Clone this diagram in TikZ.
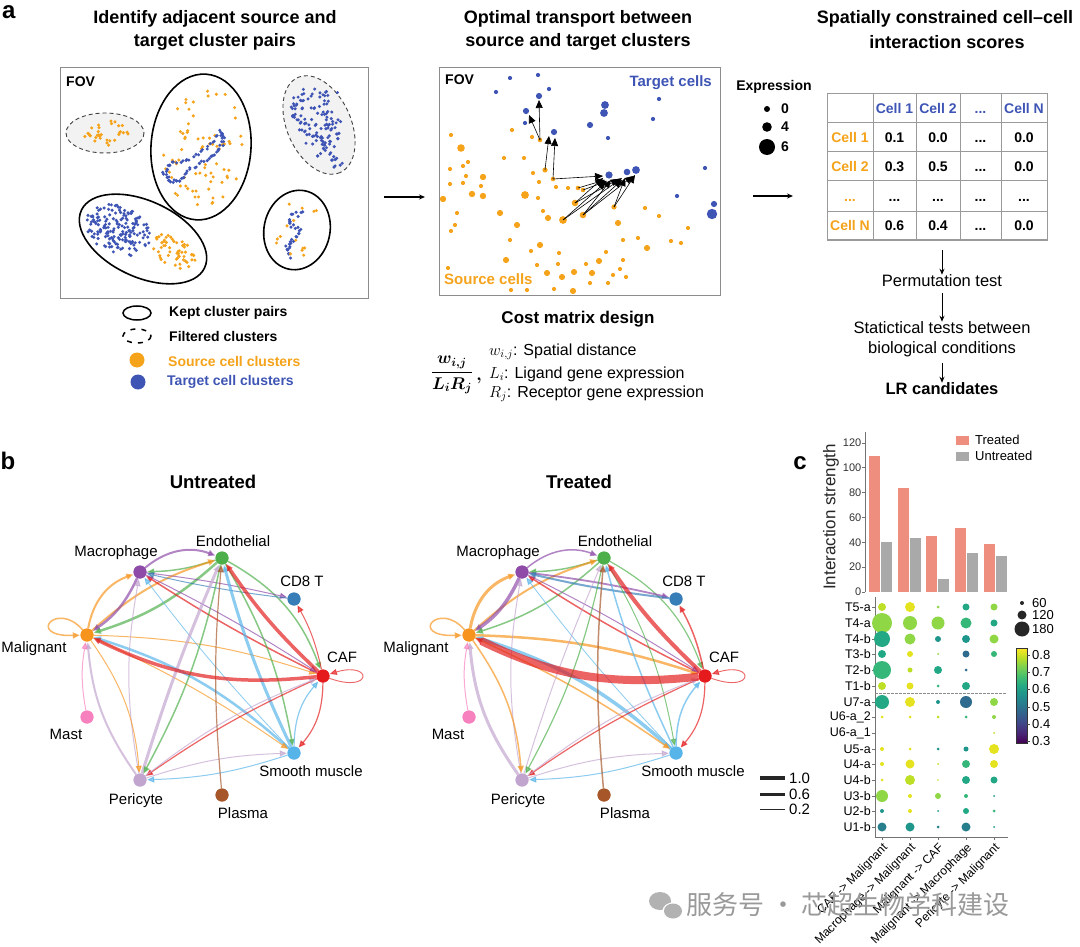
\RequirePackage{fix-cm}
\documentclass[tikz,border=0pt]{standalone}
\usepackage{amsmath}
\usepackage{bm}
\usepackage{fontspec}
\setmainfont{Liberation Sans}
\newfontfamily\cjk{Noto Sans CJK SC}
\usetikzlibrary{arrows.meta}
\definecolor{srcor}{HTML}{F5A31A}
\definecolor{tgtbl}{HTML}{3F55B5}
\definecolor{cMac}{HTML}{8E4BA8}
\definecolor{cEnd}{HTML}{4DAF4A}
\definecolor{cCD}{HTML}{377EB8}
\definecolor{cMal}{HTML}{F7941D}
\definecolor{cCAF}{HTML}{E41A1C}
\definecolor{cMast}{HTML}{F781BF}
\definecolor{cSM}{HTML}{56B4E9}
\definecolor{cPer}{HTML}{C2A5CF}
\definecolor{cPla}{HTML}{A65628}
\definecolor{barT}{HTML}{EE8E7E}
\definecolor{barU}{HTML}{A9A9A9}
\definecolor{gridg}{HTML}{9A9A9A}
\definecolor{vY}{HTML}{E5E31F}
\definecolor{vYG}{HTML}{BDDF26}
\definecolor{vL}{HTML}{8FD744}
\definecolor{vLG}{HTML}{5EC962}
\definecolor{vG}{HTML}{35B779}
\definecolor{vGT}{HTML}{22A884}
\definecolor{vT}{HTML}{1F968B}
\definecolor{vTB}{HTML}{277F8E}
\definecolor{vB}{HTML}{2F6B8E}
\definecolor{vir0}{HTML}{440154}
\definecolor{vir1}{HTML}{482475}
\definecolor{vir2}{HTML}{414487}
\definecolor{vir3}{HTML}{355F8D}
\definecolor{vir4}{HTML}{2A788E}
\definecolor{vir5}{HTML}{21918C}
\definecolor{vir6}{HTML}{22A884}
\definecolor{vir7}{HTML}{44BF70}
\definecolor{vir8}{HTML}{7AD151}
\definecolor{vir9}{HTML}{BDDF26}
\definecolor{vir10}{HTML}{FDE725}
\pgfdeclareverticalshading{viridisv}{100bp}{color(0bp)=(vir0); color(25bp)=(vir0); color(30bp)=(vir1); color(35bp)=(vir2); color(40bp)=(vir3); color(45bp)=(vir4); color(50bp)=(vir5); color(55bp)=(vir6); color(60bp)=(vir7); color(65bp)=(vir8); color(70bp)=(vir9); color(75bp)=(vir10); color(100bp)=(vir10)}
\newcommand\fs[1]{\fontsize{#1}{#1}\selectfont}
\newcommand\dd{...}
\newcommand\ellscatter[7]{%
  \foreach \k in {1,...,#6}{%
    \pgfmathsetmacro\rr{sqrt(rnd)}%
    \pgfmathsetmacro\aa{360*rnd}%
    \pgfmathsetmacro\px{#1+#3*\rr*cos(\aa)*cos(#5)-#4*\rr*sin(\aa)*sin(#5)}%
    \pgfmathsetmacro\py{#2-#3*\rr*cos(\aa)*sin(#5)-#4*\rr*sin(\aa)*cos(#5)}%
    \fill[#7] (\px,\py) circle (1.7);
  }}
\newcommand\segdots[4]{%
  \foreach \ax/\ay/\bx/\by in {#1}{%
    \foreach \k in {1,...,#2}{%
      \pgfmathsetmacro\px{\ax+(\bx-\ax)*\k/#2+#3*rand}%
      \pgfmathsetmacro\py{\ay+(\by-\ay)*\k/#2+#3*rand}%
      \fill[#4] (\px,\py) circle (1.7);
    }}}
\newcommand\dotrow[2]{\foreach \i/\r/\cc in {#2}{\fill[fill=\cc] ({882+28*\i},#1) circle (\r);}}
\begin{document}
\begin{tikzpicture}[x=1pt,y=-1pt,
  ttl/.style={font=\bfseries\fs{18}, inner sep=0pt},
  fovbox/.style={draw=black!45, line width=1},
  kept/.style={draw=black, line width=1.6},
  filt/.style={draw=black!75, line width=0.9, dash pattern=on 4pt off 3pt, fill=black!5},
  oa/.style={-{Triangle[length=8pt,width=7pt]}, line width=0.6, black},
  pa/.style={-{Stealth[length=6pt,width=5pt]}, line width=1.1, black},
  nd/.style={circle, inner sep=0pt, minimum size=13pt},
  netlbl/.style={font=\fs{15}, inner sep=0pt},
  edge/.style={opacity=0.68, -{Triangle[length=7pt,width=6pt]}, shorten >=0.5pt},
  cell/.style={font=\bfseries\fs{14}, inner sep=0pt, text height=10pt, text depth=0pt},
  tick/.style={font=\fs{11}, inner sep=0pt, text=black!80},
  rowl/.style={font=\fs{12.5}, inner sep=0pt, anchor=east},
  axl/.style={draw=black!55, line width=0.8}]
\useasboundingbox (0,0) rectangle (1080,947);
\fill[white] (0,0) rectangle (1080,947);
\pgfmathsetseed{4242}

% ================= panel a =================
\node[font=\bfseries\fs{24}, inner sep=0pt, anchor=base west] (pa) at (2,19) {a};
\node[ttl] (t1a) at (215,19) {Identify adjacent source and};
\node[ttl] (t1b) at (215,42) {target cluster pairs};
\node[ttl] (t2a) at (578,19) {Optimal transport between};
\node[ttl] (t2b) at (578,42) {source and target clusters};
\node[ttl] (t3a) at (945,19) {Spatially constrained cell--cell};
\node[ttl] (t3b) at (947,42) {interaction scores};

% left FOV
\draw[fovbox] (60,68) rectangle (368,298);
\node[font=\bfseries\fs{14}, anchor=west, inner sep=0pt] (fov1) at (66,82) {FOV};
\draw[filt] (105,133) ellipse [x radius=39, y radius=20];
\draw[filt, rotate around={-66:(319,125)}] (319,125) ellipse [x radius=52, y radius=32];
\draw[kept, rotate around={-4:(201,147)}] (201,147) ellipse [x radius=50, y radius=73];
\draw[kept, rotate around={-25:(143,239)}] (143,239) ellipse [x radius=68, y radius=38];
\draw[kept, rotate around={-12:(297,230)}] (297,230) ellipse [x radius=33, y radius=40];
\ellscatter{104}{133}{28}{13}{0}{32}{srcor}
\ellscatter{203}{148}{40}{62}{-4}{75}{srcor}
\segdots{221/131/209/147, 209/147/190/159, 190/159/172/163, 172/163/164/172, 164/172/169/181, 169/181/180/181, 180/181/189/170, 189/170/205/161, 205/161/217/153, 217/153/224/141, 224/141/221/131}{7}{1.5}{tgtbl}
\segdots{292/100/310/96, 310/96/334/92, 292/100/296/118, 296/118/306/133, 306/133/322/142, 322/142/332/158, 332/158/340/168, 318/112/330/122, 330/122/338/140}{7}{3.5}{tgtbl}
\ellscatter{319}{125}{40}{22}{-66}{70}{tgtbl}
\ellscatter{118}{230}{34}{24}{-25}{170}{tgtbl}
\ellscatter{172}{251}{26}{15}{-25}{55}{srcor}
\segdots{303/211/292/216, 292/216/290/225, 290/225/300/231, 300/231/292/240, 292/240/287/248, 287/248/289/257}{6}{2.5}{tgtbl}
\ellscatter{297}{230}{24}{30}{-12}{15}{srcor}

% legend
\draw[line width=1.5] (137,313) ellipse [x radius=14, y radius=7];
\draw[line width=1.5, dash pattern=on 5pt off 6pt] (137,336) ellipse [x radius=14, y radius=7];
\fill[srcor] (137,360) circle (7.5);
\fill[tgtbl] (138,382) circle (7.5);
\node[font=\bfseries\fs{14}, anchor=west, inner sep=0pt] (lg1) at (169,313) {Kept cluster pairs};
\node[font=\bfseries\fs{14}, anchor=west, inner sep=0pt] (lg2) at (169,336) {Filtered clusters};
\node[font=\bfseries\fs{14}, anchor=west, inner sep=0pt, text=srcor] (lg3) at (168,361) {Source cell clusters};
\node[font=\bfseries\fs{14}, anchor=west, inner sep=0pt, text=tgtbl] (lg4) at (167,382) {Target cell clusters};

% arrow left -> middle
\coordinate (ar1a) at (384,197);
\coordinate (ar1b) at (425,197);
\draw[pa] (ar1a) -- (ar1b);

% middle FOV
\draw[fovbox] (439,68) rectangle (720,295);
\node[font=\bfseries\fs{14}, anchor=west, inner sep=0pt] (fov2) at (445,80) {FOV};
\node[font=\bfseries\fs{15}, anchor=east, inner sep=0pt, text=tgtbl] (tc) at (712,83) {Target cells};
\node[font=\bfseries\fs{15}, anchor=west, inner sep=0pt, text=srcor] (sc) at (444,279) {Source cells};
\foreach \x/\y/\r in {451/135/2.1, 461/148/3.8, 512/130/2.1, 532/137/2.1, 540/140/2.3, 504/158/2.1, 524/158/2.1, 545/170/2.6, 553/179/2.3, 533/173/2.1, 450/169/2.1, 463/166/2.1, 468/162/2.1, 466/176/2.1, 483/177/3.2, 450/184/2.1, 463/183/2.1, 481/186/2.1, 472/194/3.2, 483/196/3.2, 443/199/3.2, 525/195/3.9, 539/182/2.1, 538/198/2.1, 556/187/2.1, 568/188/2.1, 578/188/2.3, 583/190/2.3, 575/203/3.3, 583/215/3.3, 563/220/3.9, 614/207/2.6, 618/223/3.1, 645/208/2.1, 659/216/2.1, 688/228/2.1, 681/243/2.1, 671/241/2.1, 647/248/3.1, 638/238/2.1, 623/240/2.1, 457/213/2.1, 455/225/2.1, 451/231/2.1, 500/213/3.1, 517/225/3.1, 548/218/3.1, 543/211/2.1, 510/240/2.1, 540/245/3.1, 531/251/2.1, 559/253/2.1, 606/252/2.1, 506/260/3.1, 558/264/2.1, 537/265/2.1, 586/264/2.1, 599/261/3.1, 623/260/2.1, 620/269/2.1, 448/268/2.1, 547/273/3.1, 562/277/3.1, 574/272/3.1, 592/273/3.1, 613/275/2.1, 626/277/2.1, 608/283/2.1, 511/290/2.1, 527/290/2.1, 554/289/2.1, 573/291/3.1, 590/283/2.1}
  \fill[srcor] (\x,\y) circle (\r);
\foreach \x/\y/\r in {510/78/2.1, 538/75/2.1, 496/92/2.1, 549/89/2.1, 539/96/3.1, 526/111/3.1, 525/123/2.1, 554/132/3.1, 605/105/3.9, 604/113/3.9, 590/125/3.1, 608/138/2.1, 659/99/2.1, 653/119/2.1, 609/175/3.6, 627/172/3.3, 636/170/3.9, 705/168/2.1, 677/196/2.1, 714/204/3.1, 712/214/5.2}
  \fill[tgtbl] (\x,\y) circle (\r);
\foreach \ax/\ay/\bx/\by in {540/140/529/115, 540/140/539/100, 545/170/549/136, 553/179/555/138, 553/179/603/176, 575/203/603/178, 578/188/605/180, 583/190/607/181, 583/215/611/180, 563/220/606/182, 563/220/622/178, 583/215/622/180, 614/207/625/178, 614/207/635/175, 583/215/633/176, 575/203/619/179}
  \draw[oa] (\ax,\ay) -- (\bx,\by);

% cost matrix
\node[font=\bfseries\fs{17}, inner sep=0pt] (cmd) at (578,319) {Cost matrix design};
\node[inner sep=0pt] (frac) at (452,375) {\fs{17}$\boldsymbol{\dfrac{w_{i,j}}{L_iR_j}}$};
\node[inner sep=0pt] (comma) at (479,381) {\fs{17}$\boldsymbol{,}$};
\node[font=\fs{16}, anchor=west, inner sep=0pt] (d1) at (489,352) {$w_{i,j}$: Spatial distance};
\node[font=\fs{16}, anchor=west, inner sep=0pt] (d2) at (489,374) {$L_i$: Ligand gene expression};
\node[font=\fs{16}, anchor=west, inner sep=0pt] (d3) at (489,394) {$R_j$: Receptor gene expression};

% expression legend
\node[font=\bfseries\fs{14}, inner sep=0pt] (expr) at (774,87) {Expression};
\fill (767,109) circle (3);
\fill (767,127) circle (4.8);
\fill (767,147) circle (8);
\node[font=\bfseries\fs{14}, anchor=west, inner sep=0pt] (e0) at (781,109) {0};
\node[font=\bfseries\fs{14}, anchor=west, inner sep=0pt] (e4) at (781,127) {4};
\node[font=\bfseries\fs{14}, anchor=west, inner sep=0pt] (e6) at (781,147) {6};
\coordinate (ar2a) at (753,196);
\coordinate (ar2b) at (793,196);
\draw[pa] (ar2a) -- (ar2b);

% table
\draw[gridg, line width=1] (827,94) rectangle (1047,240);
\foreach \x in {873,916,960,1001} \draw[gridg, line width=1] (\x,94) -- (\x,240);
\foreach \y in {123,152,181,212} \draw[gridg, line width=1] (827,\y) -- (1047,\y);
\foreach \x/\t in {894.5/Cell 1, 938/Cell 2, 980.5/\dd, 1024/Cell N}
  \node[cell, text=tgtbl] at (\x,108.5) {\t};
\foreach \y/\t in {137.5/Cell 1, 166.5/Cell 2, 196.5/\dd, 226/Cell N}
  \node[cell, text=srcor] at (850,\y) {\t};
\foreach \y/\a/\b/\c/\d in {137.5/0.1/0.0/\dd/0.0, 166.5/0.3/0.5/\dd/0.0, 196.5/\dd/\dd/\dd/\dd, 226/0.6/0.4/\dd/0.0}{
  \node[cell] at (894.5,\y) {\a};
  \node[cell] at (938,\y) {\b};
  \node[cell] at (980.5,\y) {\c};
  \node[cell] at (1024,\y) {\d};
}
\node[font=\fs{16.5}, inner sep=0pt] (perm) at (942,281) {Permutation test};
\node[font=\fs{16.5}, inner sep=0pt] (stat1) at (942,328) {Statictical tests between};
\node[font=\fs{16.5}, inner sep=0pt] (stat2) at (942,349) {biological conditions};
\node[font=\bfseries\fs{16.5}, inner sep=0pt] (lr) at (942,389) {LR candidates};
\coordinate (tb) at (942,250);
\draw[pa, line width=1] (tb) -- (perm.north);
\draw[pa, line width=1] (perm.south) ++(0,6) -- (stat1.north);
\draw[pa, line width=1] (stat2.south) ++(0,6) -- (lr.north);

% ================= panel b =================
\node[font=\bfseries\fs{24}, inner sep=0pt] (pb) at (8,461) {b};
\node[ttl, font=\bfseries\fs{18.5}] (unt) at (213,482) {Untreated};
\node[ttl, font=\bfseries\fs{18.5}] (trt) at (579,482) {Treated};
\foreach \p/\dx in {u/0, t/382}{
  \foreach \n/\x/\y/\c/\lx/\ly/\txt in {Mac/140/572/cMac/-24/-19/Macrophage, End/222/558/cEnd/11/-17/Endothelial, CD/294/599/cCD/8/-18/CD8 T, Mal/87/635/cMal/-53/14/Malignant, CAF/323/676/cCAF/19/-19/CAF, Mast/87/717/cMast/-21/17/Mast, SM/294/753/cSM/17/18/Smooth muscle, Per/140/780/cPer/-4/21/Pericyte, Pla/222/795/cPla/21/18/Plasma}{
    \node[nd, fill=\c] (\p\n) at (\x+\dx,\y) {};
    \node[netlbl] (\p\n L) at (\x+\dx+\lx,\y+\ly) {\txt};
  }}
\foreach \s/\t/\c/\wu/\wt/\b in {
  Mac/End/cMac/2/1.5/30, End/Mac/cEnd/1.5/1.5/8, Mal/End/cMal/2/2/12, Mal/Mac/cMal/2/3/30,
  Mac/Mal/cMac/2.5/3.5/15, End/Mal/cEnd/2.5/1.5/12, Mal/CAF/cMal/1/2.5/8,
  CAF/Mac/cCAF/1.5/1.5/3, Mac/CAF/cMac/1/1/3, End/CAF/cEnd/1.5/1.2/20,
  Mac/CD/cMac/1/1.8/3, CD/Mac/cCD/1/2/3, CAF/CD/cCAF/1/1.5/-8,
  End/SM/cEnd/1.5/1/10, SM/End/cSM/3/1.5/5, CAF/SM/cCAF/1.2/1.2/20, SM/CAF/cSM/1.2/1.5/20,
  SM/Mal/cSM/2.5/3.5/-12, Mal/SM/cMal/1/1.5/5, SM/Mac/cSM/0.8/0.8/3,
  Per/End/cPer/3/1/3, End/Per/cEnd/1.5/1.2/8, Per/Mac/cPer/1/1/10, Per/Mal/cPer/2/3/15,
  Mal/Per/cMal/1/1.5/15, CAF/Per/cCAF/1.2/1.2/-5, Per/CAF/cPer/1/1/8, Per/SM/cPer/1/1/8,
  SM/Per/cSM/1/1/8, Mast/Mal/cMast/1/1/10, Pla/End/cPla/1.2/1.5/5,
  CAF/End/cCAF/3.5/4/6, CAF/Mal/cCAF/3.5/8/16}{
  \draw[edge, draw=\c, line width=\wu pt] (u\s) to[bend left=\b] (u\t);
  \draw[edge, draw=\c, line width=\wt pt] (t\s) to[bend left=\b] (t\t);
}
\foreach \p in {u,t}{
  \draw[edge, draw=cMal, line width=1.5pt] (\p Mal) .. controls +(-30,-35) and +(-62,2) .. (\p Mal);
  \draw[edge, draw=cCAF, line width=0.9pt] (\p CAF) .. controls +(50,18) and +(50,-15) .. (\p CAF);
}
\foreach \p/\dx in {u/0, t/382}{
  \foreach \n/\c in {Mac/cMac, End/cEnd, CD/cCD, Mal/cMal, CAF/cCAF, Mast/cMast, SM/cSM, Per/cPer, Pla/cPla}
    \fill[\c] (\p\n) circle (6.5);
}
% width legend
\foreach \y/\w/\t/\n in {778/4.5/1.0/A, 794/3/0.6/B, 809/1/0.2/C}{
  \coordinate (wl\n a) at (760,\y);
  \coordinate (wl\n b) at (785,\y);
  \draw[line width=\w pt, black!85] (wl\n a) -- (wl\n b);
  \node[font=\fs{15}, anchor=west, inner sep=0pt] at (789,\y) {\t};
}

% ================= panel c =================
\node[font=\bfseries\fs{24}, inner sep=0pt] (pc) at (800,463) {c};
\draw[axl] (865,432) -- (865,592);
\foreach \v in {0,20,40,60,80,100,120}{
  \draw[axl] (862,{592-1.2417*\v}) -- (865,{592-1.2417*\v});
  \node[tick, anchor=east] at (861.5,{592-1.2417*\v}) {\v};
}
\node[font=\fs{17}, inner sep=0pt, rotate=90, text=black!85] (ylab) at (831,517) {Interaction strength};
\foreach \i/\vt/\vu in {0/110/41, 1/84/44, 2/46/11, 3/52/32, 4/39/30}{
  \fill[barT, draw=white, line width=0.4] ({880+28.8*\i-12},592) rectangle ({880+28.8*\i},{592-1.2417*\vt});
  \fill[barU, draw=white, line width=0.4] ({880+28.8*\i},592) rectangle ({880+28.8*\i+12},{592-1.2417*\vu});
}
\fill[barT] (956,436) rectangle (969,445);
\fill[barU] (956,452) rectangle (969,461);
\node[font=\fs{13}, anchor=west, inner sep=0pt] (lgT) at (975,440) {Treated};
\node[font=\fs{13}, anchor=west, inner sep=0pt] (lgU) at (975,456) {Untreated};

% dot plot axes
\draw[axl] (875,597) -- (875,837) -- (1008,837);
\draw[black!45, line width=0.6, dash pattern=on 2.5pt off 1.5pt] (875,693) -- (1007,693);
\foreach \y/\t in {607/T5-a, 623/T4-a, 639/T4-b, 654/T3-b, 670/T2-b, 686/T1-b, 702/U7-a, 717/U6-a\_2, 733/U6-a\_1, 749/U5-a, 764/U4-a, 780/U4-b, 796/U3-b, 811/U2-b, 827/U1-b}{
  \draw[axl] (872,\y) -- (875,\y);
  \node[rowl] at (871,\y) {\t};
}
\dotrow{607}{0/4/vYG, 1/5/vY, 2/1.5/vL, 3/3.5/vGT, 4/3.5/vL}
\dotrow{623}{0/10/vL, 1/7/vL, 2/6.5/vL, 3/5.5/vG, 4/3.5/vGT}
\dotrow{639}{0/8/vGT, 1/5.5/vL, 2/3/vT, 3/4/vT, 4/4.5/vL}
\dotrow{654}{0/4/vGT, 1/3/vY, 2/1/vL, 3/3.5/vB, 4/3/vG}
\dotrow{670}{0/9/vG, 1/2.5/vYG, 2/4/vGT, 3/1.5/vB}
\dotrow{686}{0/4/vYG, 1/3.5/vY, 2/1.5/vG, 3/4/vGT}
\dotrow{702}{0/7/vGT, 1/5/vY, 2/2/vT, 3/6/vB, 4/4/vL}
\dotrow{717}{0/1.5/vY, 1/1.5/vY, 2/1.5/vYG, 3/1.5/vG, 4/2/vL}
\dotrow{733}{4/1/vYG}
\dotrow{749}{0/2/vY, 1/1.5/vY, 2/1.5/vT, 3/2.5/vT, 4/5/vY}
\dotrow{764}{0/2/vY, 1/4.5/vY, 2/1/vYG, 3/4/vG, 4/4/vY}
\dotrow{780}{0/1.5/vY, 1/5/vYG, 2/0.8/vYG, 3/4/vGT, 4/3.5/vGT}
\dotrow{796}{0/6/vL, 1/2/vY, 2/3/vL, 3/2/vG, 4/1/vT}
\dotrow{811}{0/2/vT, 1/2/vY, 2/1/vT, 3/3/vGT, 4/1.5/vG}
\dotrow{827}{0/4.5/vTB, 1/4.5/vT, 2/1.5/vTB, 3/4.5/vTB, 4/1/vT}
\foreach \i/\t in {0/CAF -> Malignant, 1/Macrophage -> Malignant, 2/Malignant -> CAF, 3/Malignant -> Macrophage, 4/Pericyte -> Malignant}{
  \draw[axl] ({882+28*\i},837) -- ({882+28*\i},840);
  \node[font=\fs{12}, inner sep=0pt, anchor=east, rotate=45] at ({886+28*\i},846) {\t};
}
% size legend
\foreach \y/\r/\t in {603/2/60, 615/4.5/120, 629/7.5/180}{
  \fill[black!85] (1022,\y) circle (\r);
  \node[font=\fs{13}, anchor=west, inner sep=0pt] at (1032,\y) {\t};
}
% colour bar
\shade[shading=viridisv] (1016,648) rectangle (1027,743);
\draw[black!80, line width=0.8] (1016,648) rectangle (1027,743);
\foreach \v/\y in {0.8/655, 0.7/672, 0.6/689, 0.5/707, 0.4/724, 0.3/741}{
  \draw[black!70, line width=0.6] (1027,\y) -- (1030,\y);
  \node[font=\fs{13}, anchor=west, inner sep=0pt] at (1032,\y) {\v};
}

% watermark
\fill[black!30] (660,901) ellipse [x radius=11, y radius=9];
\fill[white] (673,911) ellipse [x radius=10.5, y radius=8.5];
\fill[black!30] (673,911) ellipse [x radius=9, y radius=7.5];
\node[font=\cjk\fs{26}, text=black!40, anchor=west, inner sep=0pt] (wm) at (686,905) {服务号 · 芯超生物学科建设};
\end{tikzpicture}
\end{document}
